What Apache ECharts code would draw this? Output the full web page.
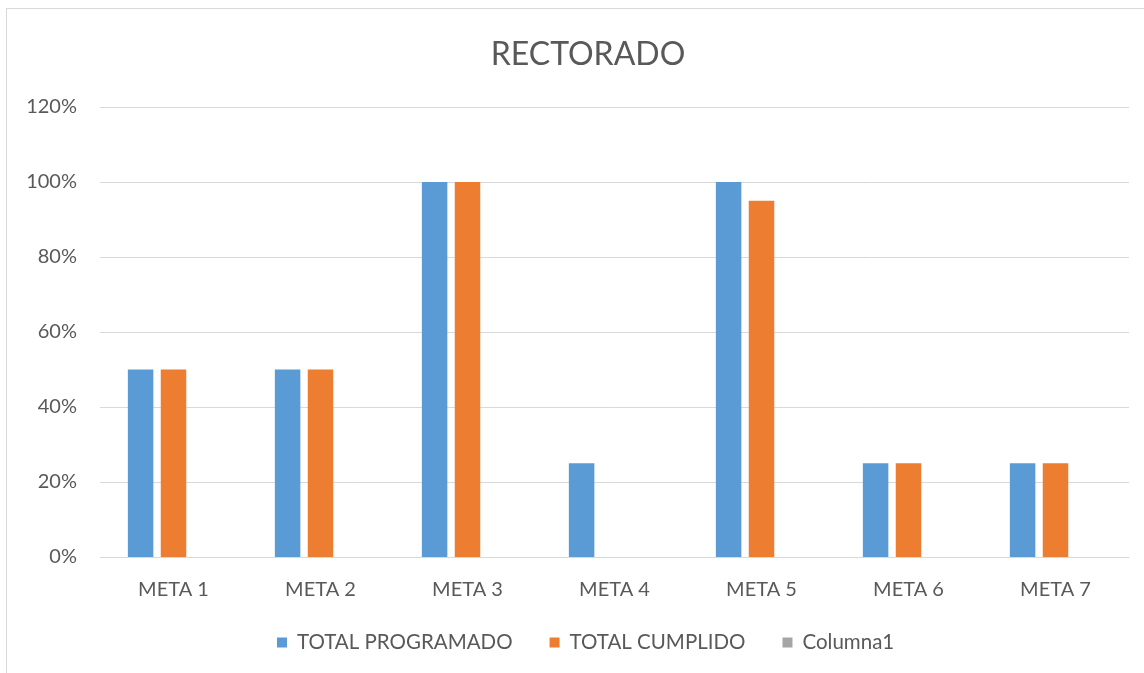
<!DOCTYPE html>
<html>
<head>
<meta charset="utf-8">
<script src="https://cdn.jsdelivr.net/npm/echarts@6/dist/echarts.min.js"></script>
<style>
  html, body { margin: 0; padding: 0; background: #ffffff; }
  #wrap { position: relative; width: 1144px; height: 673px; overflow: hidden; }
  #chart { position: absolute; left: 0; top: 0; width: 1144px; height: 673px; }
  #frame { position: absolute; left: 6px; top: 8px; width: 1200px; height: 700px;
           border-left: 1px solid #d9d9d9; border-top: 1px solid #d9d9d9; pointer-events: none; }
</style>
</head>
<body>
<div id="wrap">
  <div id="chart"></div>
  <div id="frame"></div>
</div>
<script>
const chartTitle = 'RECTORADO';
const categories = ['META 1', 'META 2', 'META 3', 'META 4', 'META 5', 'META 6', 'META 7'];
const seriesNames = ['TOTAL PROGRAMADO', 'TOTAL CUMPLIDO', 'Columna1'];
const totalProgramado = [0.50, 0.50, 1.00, 0.25, 1.00, 0.25, 0.25];
const totalCumplido = [0.50, 0.50, 1.00, null, 0.95, 0.25, 0.25];
const columna1 = [null, null, null, null, null, null, null];
const seriesColors = ['#5b9bd5', '#ed7d31', '#a5a5a5'];

const FONT = 'Lato, "Open Sans", sans-serif';
const chart = echarts.init(document.getElementById('chart'));
const allData = [totalProgramado, totalCumplido, columna1];

chart.setOption({
  animation: false,
  title: {
    text: chartTitle,
    left: 583,
    textAlign: 'center',
    top: 34,
    textStyle: { fontFamily: FONT, fontSize: 32, fontWeight: 'normal', color: '#595959' }
  },
  legend: {
    bottom: 15,
    left: 272,
    itemWidth: 10,
    itemHeight: 10,
    itemGap: 37,
    icon: 'rect',
    textStyle: { fontFamily: FONT, fontSize: 20.5, color: '#595959', padding: [0, 0, 0, 5] },
    data: seriesNames
  },
  grid: { left: 100, right: 15, top: 107, bottom: 116, containLabel: false },
  xAxis: {
    type: 'category',
    data: categories,
    axisLine: { lineStyle: { color: '#d9d9d9', width: 1 } },
    axisTick: { show: false },
    axisLabel: { fontFamily: FONT, fontSize: 20, color: '#595959', margin: 23 }
  },
  yAxis: {
    type: 'value',
    min: 0,
    max: 1.2,
    interval: 0.2,
    axisLine: { show: false },
    axisTick: { show: false },
    splitLine: { lineStyle: { color: '#d9d9d9', width: 1 } },
    axisLabel: {
      fontFamily: FONT, fontSize: 20, color: '#595959', margin: 23,
      formatter: v => Math.round(v * 100) + '%'
    }
  },
  series: seriesNames.map((name, i) => ({
    name: name,
    type: 'bar',
    data: allData[i],
    barWidth: 25.5,
    barGap: '29%',
    itemStyle: { color: seriesColors[i] }
  }))
});
</script>
</body>
</html>
